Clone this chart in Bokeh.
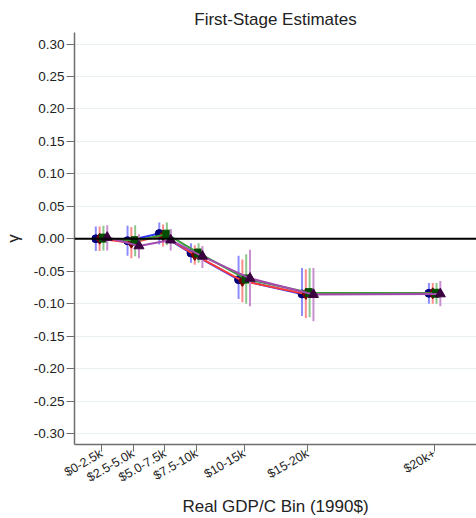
import math
from bokeh.plotting import figure
from bokeh.models import FixedTicker, NumeralTickFormatter, Span, ColumnDataSource, Range1d
from bokeh.embed import file_html
from bokeh.resources import INLINE

# ---- data ----
bins = ["$0-2.5k", "$2.5-5.0k", "$5.0-7.5k", "$7.5-10k", "$10-15k", "$15-20k", "$20k+"]
bin_mid = [1.25, 3.75, 6.25, 8.75, 12.5, 17.5, 27.5]

blue_est = [0.000, -0.003, 0.008, -0.022, -0.063, -0.085, -0.084]
blue_lo = [-0.019, -0.026, -0.009, -0.037, -0.093, -0.119, -0.100]
blue_hi = [0.019, 0.020, 0.025, -0.007, -0.026, -0.045, -0.068]

red_est = [0.000, -0.006, 0.005, -0.025, -0.065, -0.085, -0.084]
red_lo = [-0.019, -0.030, -0.012, -0.040, -0.098, -0.122, -0.100]
red_hi = [0.019, 0.018, 0.022, -0.010, -0.032, -0.047, -0.068]

green_est = [0.001, -0.003, 0.007, -0.022, -0.062, -0.083, -0.084]
green_lo = [-0.018, -0.027, -0.010, -0.037, -0.100, -0.121, -0.100]
green_hi = [0.020, 0.021, 0.025, -0.007, -0.024, -0.045, -0.068]

purple_est = [0.002, -0.011, -0.002, -0.027, -0.061, -0.086, -0.085]
purple_lo = [-0.018, -0.030, -0.018, -0.045, -0.104, -0.127, -0.104]
purple_hi = [0.021, 0.007, 0.015, -0.011, -0.017, -0.045, -0.065]

y_ticks = [-0.30, -0.25, -0.20, -0.15, -0.10, -0.05, 0.0, 0.05, 0.10, 0.15, 0.20, 0.25, 0.30]

x_title = "Real GDP/C Bin (1990$)"
y_title = "γ"
chart_title = "First-Stage Estimates"

FONT = "Liberation Sans"

p = figure(width=476, height=518, output_backend="svg", toolbar_location=None,
           x_range=Range1d(-0.88, 30.8), y_range=Range1d(-0.317, 0.3178),
           min_border_left=74, min_border_right=0, min_border_top=32, min_border_bottom=72)
p.outline_line_color = None
p.background_fill_color = "white"
p.border_fill_color = "white"

p.title.text = chart_title
p.title.align = "center"
p.title.vertical_align = "middle"
p.title.text_font = FONT
p.title.text_font_size = "17px"
p.title.text_font_style = "normal"
p.title.text_color = "#222222"
p.title.standoff = 6

# axes
p.xaxis.ticker = FixedTicker(ticks=bin_mid)
p.xaxis.major_label_overrides = {m: b for m, b in zip(bin_mid, bins)}
p.xaxis.major_label_orientation = math.pi / 6
p.xaxis.axis_label = x_title
p.yaxis.ticker = FixedTicker(ticks=y_ticks)
p.yaxis.formatter = NumeralTickFormatter(format="0.00")
p.yaxis.axis_label = y_title
for ax in (p.xaxis[0], p.yaxis[0]):
    ax.axis_line_color = "#6e6e6e"
    ax.axis_line_width = 1.5
    ax.major_tick_line_color = "#6e6e6e"
    ax.major_tick_in = 0
    ax.minor_tick_line_color = None
    ax.major_label_text_font = FONT
    ax.major_label_text_color = "#222222"
    ax.axis_label_text_font = FONT
    ax.axis_label_text_font_size = "17px"
    ax.axis_label_text_font_style = "normal"
    ax.axis_label_text_color = "#222222"
p.xaxis.major_tick_out = 7
p.yaxis.major_tick_out = 8
p.xaxis.major_label_text_font_size = "12.5px"
p.yaxis.major_label_text_font_size = "13.5px"
p.xaxis.major_label_standoff = 1
p.yaxis.major_label_standoff = 2
p.xaxis.axis_label_standoff = 3
p.yaxis.axis_label_standoff = 8

p.xgrid.grid_line_color = None
p.ygrid.grid_line_color = "#e9f0f1"
p.ygrid.grid_line_width = 1

p.add_layout(Span(location=0, dimension="width", line_color="black", line_width=2))

series = [
    (blue_est, blue_lo, blue_hi, -0.45, "#3333ff", "#8c8cff", "#00007a", "circle", 8),
    (red_est, red_lo, red_hi, -0.15, "#ff3b3b", "#ff8c8c", "#7a0000", "diamond", 11),
    (green_est, green_lo, green_hi, 0.15, "#3c9c3c", "#8cc88c", "#004d00", "square", 8),
    (purple_est, purple_lo, purple_hi, 0.45, "#a24aad", "#c98fd1", "#3a003f", "triangle", 10),
]

for est, lo, hi, off, lc, ec, mc, mk, sz in series:
    xs = [m + off for m in bin_mid]
    src = ColumnDataSource(dict(x=xs, y=est, lo=lo, hi=hi))
    p.segment(x0="x", y0="lo", x1="x", y1="hi", source=src, line_color=ec, line_width=2)
    p.line(x="x", y="y", source=src, line_color=lc, line_width=2)
    p.scatter(x="x", y="y", source=src, marker=mk, size=sz, fill_color=mc, line_color=mc)

open("out.html", "w").write(file_html(p, INLINE))
